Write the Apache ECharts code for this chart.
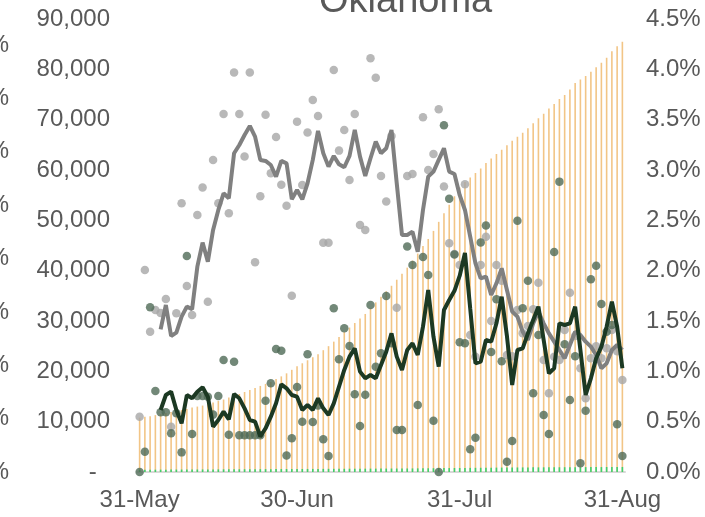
<!DOCTYPE html>
<html>
<head>
<meta charset="utf-8">
<script src="https://cdn.jsdelivr.net/npm/echarts@6/dist/echarts.min.js"></script>
<style>
html, body { margin: 0; padding: 0; background: #fff; }
#chart { width: 705px; height: 517px; }
</style>
</head>
<body>
<div id="chart"></div>
<script>
// 31-May .. 31-Aug, one entry per day
const monthNames = ['Jan','Feb','Mar','Apr','May','Jun','Jul','Aug','Sep','Oct','Nov','Dec'];
const days = [];
for (let d = new Date(2020, 4, 31); d <= new Date(2020, 7, 31); d.setDate(d.getDate() + 1)) {
  days.push(d.getDate() + '-' + monthNames[d.getMonth()]);
}
const tickLabels = ['31-May', '30-Jun', '31-Jul', '31-Aug'];

// cumulative (orange bars)
const cumulative = [
  10800, 11000, 11100, 11300, 11500, 11700, 11900, 12100, 12300, 12500,
  12800, 13000, 13200, 13500, 13800, 14100, 14400, 14800, 15100, 15500,
  15900, 16300, 16700, 17100, 17500, 17900, 18500, 19000, 19600, 20300,
  21000, 21600, 22200, 22800, 23400, 24200, 25000, 25900, 26800, 27800,
  28700, 29600, 30500, 31400, 32500, 33700, 34800, 35900, 37000, 38200,
  39400, 40600, 42000, 43400, 44900, 46300, 47900, 49700, 51400, 53100,
  54800, 56500, 57600, 58500, 59400, 60300, 61400, 62300, 63200, 64000,
  64900, 65800, 66600, 67400, 68300, 69300, 70300, 71200, 72200, 73100,
  74100, 74900, 76000, 77300, 78000, 78700, 79500, 80400, 81300, 82300,
  83600, 84600, 85500
];

// small green bars at the base
const baseBars = [
  450, 450, 460, 460, 470, 470, 480, 480, 490, 490,
  500, 500, 510, 510, 520, 520, 530, 530, 540, 540,
  550, 550, 560, 560, 570, 570, 580, 580, 590, 590,
  600, 600, 610, 610, 620, 620, 630, 630, 640, 640,
  650, 650, 660, 660, 670, 670, 680, 680, 690, 690,
  700, 700, 710, 720, 730, 740, 750, 760, 770, 780,
  790, 800, 810, 820, 830, 840, 850, 860, 870, 880,
  890, 900, 900, 910, 910, 920, 920, 930, 930, 940,
  940, 950, 950, 960, 960, 970, 970, 980, 980, 990,
  990, 1000, 1000
];

// grey daily dots
const greyDaily = [
  11000, 40140, 27880, 32190, 31590, 34370, 9000, 31530, 53380, 36960,
  31200, 51070, 56500, 33840, 62000, 53380, 71130, 51400, 79350, 71130,
  62660, 79350, 41660, 54770, 71000, 59350, 66560, 57090, 52920, 35040,
  69610, 57030, 67430, 73920, 70740, 45570, 45570, 79880, 63850, 67960,
  58020, 71130, 49080, 48090, 82200, 78350, 58820, 53720, 66760, 32650,
  null, 58820, 59210, null, 70470, 60010, 63190, 72060, 56700, 45440,
  43320, 41130, 57160, 27220, 22920, 41130, 46760, 30000, 41130, 38000,
  23250, 23000, 32190, 27550, 29010, 32320, 37620, 22250, 15630, 22920,
  22250, 28220, 35630, 27000, 20600, 14640, 22580, 25000, 22580, 24570,
  28220, 24000, 18280
];

// green daily dots
const greenDaily = [
  0, 4040, 32720, 16090, 11860, 11860, 7700, 11660, 3900, 42920,
  7550, 15100, 15100, 14960, 11400, 15100, 22250, 7400, 21920, 7290,
  7290, 7290, 7290, 7290, 14140, 17620, 24440, 24110, 3300, 6690,
  16900, 10000, 23400, 9930, 13200, 6490, 3180, 32520, 22390, 28550,
  25040, 15450, 9140, 15370, 33180, 20930, 23580, 34970, 25570, 8350,
  8350, 44800, 41130, 13310, 42700, 39140, 10200, 0, 68900, 54300,
  43200, 25800, 25560, 4500, 6800, 45600, 48950, 23850, 34310, 22000,
  2050, 6160, 49900, 32520, 38020, 15630, 27220, 11330, 7550, 43700,
  57690, 25370, 14310, 23000, 1720, 12190, 38290, 41000, 33380, 27880,
  29210, 9470, 3180
];

// grey rolling line
const greyAvg = [
  null, null, null, null, 28350, 33180, 27020, 27680, 30860, 32850,
  32320, 40800, 45570, 41800, 48090, 52060, 55370, 54380, 63320, 64970,
  66960, 68750, 66630, 62000, 61800, 61000, 58680, 61800, 61330, 54180,
  56030, 54180, 57360, 62000, 67760, 63320, 60670, 62790, 61130, 60540,
  62790, 67960, 62660, 58820, 62330, 65640, 63320, 64310, 67960, 57360,
  47090, 47090, 47750, 43780, 52060, 58680, 59670, 62000, 64310, 59670,
  59210, 55000, 52060, 46760, 41460, 38480, 38810, 35170, 37490, 40470,
  36160, 31860, 30870, 27880, 26230, 29540, 31860, 29540, 27550, 25900,
  24240, 22580, 25230, 27880, 27220, 25900, 24900, 23250, 20600, 21590,
  24240, 25230, 24240
];

// dark green rolling line
const greenAvg = [
  null, null, null, null, 12320, 15300, 15960, 12320, 9670, 15300,
  14640, 15960, 16820, 14970, 9010, 10330, 11990, 10460, 15500, 14640,
  12650, 10330, 10000, 7020, 8680, 10990, 13650, 17420, 16630, 15300,
  14970, 12320, 13310, 12320, 14640, 12650, 11330, 13640, 16960, 20270,
  22920, 24570, 19940, 18610, 19270, 18610, 21260, 23910, 27550, 22920,
  20270, 24240, 25560, 23250, 28880, 36160, 26890, 20930, 32190, 34180,
  36000, 39000, 43500, 32500, 21590, 21920, 26230, 25890, 29540, 34840,
  27000, 17290, 24240, 24570, 27550, 30200, 32850, 26230, 19600, 20600,
  29540, 29210, 29540, 32850, 24240, 15300, 18610, 22580, 24900, 28880,
  33840, 28880, 20600
];

const FONT = "'Liberation Sans', Arial, sans-serif";
const TXT = '#595959';

const chart = echarts.init(document.getElementById('chart'));
chart.setOption({
  animation: false,
  backgroundColor: '#fff',
  title: {
    text: 'Oklahoma',
    left: 314,
    top: -22,
    textStyle: { fontFamily: FONT, fontSize: 38, fontWeight: 'normal', color: TXT }
  },
  grid: [
    { left: 137, top: 19, width: 488, bottom: 45 },
    { left: 16, top: 45, width: 1, bottom: 45 }
  ],
  xAxis: [
    {
      type: 'category',
      data: days,
      boundaryGap: true,
      axisLine: { lineStyle: { color: '#d9d9d9', width: 2 } },
      axisTick: {
        length: 7,
        lineStyle: { color: '#d9d9d9', width: 2 },
        interval: (i, v) => tickLabels.indexOf(v) >= 0
      },
      axisLabel: {
        interval: (i, v) => tickLabels.indexOf(v) >= 0,
        margin: 16,
        fontFamily: FONT, fontSize: 24, color: TXT
      }
    },
    { gridIndex: 1, type: 'value', show: false }
  ],
  yAxis: [
    {
      type: 'value', min: 0, max: 90000, interval: 10000,
      splitLine: { show: false },
      axisLine: { show: false }, axisTick: { show: false },
      axisLabel: {
        margin: 27,
        fontFamily: FONT, fontSize: 24, color: TXT,
        formatter: v => v === 0 ? '-  ' : v.toLocaleString('en-US')
      }
    },
    {
      type: 'value', min: 0, max: 4.5, interval: 0.5, position: 'right',
      splitLine: { show: false },
      axisLine: { show: false }, axisTick: { show: false },
      axisLabel: {
        margin: 21,
        fontFamily: FONT, fontSize: 24, color: TXT,
        formatter: v => v.toFixed(1) + '%'
      }
    },
    {
      gridIndex: 1, type: 'value', min: 0, max: 8, interval: 1,
      splitLine: { show: false },
      axisLine: { show: false }, axisTick: { show: false },
      axisLabel: {
        margin: 8,
        fontFamily: FONT, fontSize: 24, color: TXT,
        formatter: v => v + '%'
      }
    }
  ],
  series: [
    {
      name: 'cumulative', type: 'bar', data: cumulative,
      barWidth: 1.6, barGap: '-100%',
      itemStyle: { color: '#f2c586' }, z: 1
    },
    {
      name: 'base', type: 'bar', data: baseBars,
      barWidth: 1.6, barGap: '-100%',
      itemStyle: { color: '#3fcf6f' }, z: 1
    },
    {
      name: 'grey daily', type: 'scatter', data: greyDaily,
      symbolSize: 8.5, itemStyle: { color: '#a6a6a6' }, z: 2
    },
    {
      name: 'green daily', type: 'scatter', data: greenDaily,
      symbolSize: 8.5, itemStyle: { color: '#4f6a56' }, z: 3
    },
    {
      name: 'grey avg', type: 'line', data: greyAvg,
      showSymbol: false, lineStyle: { color: '#808080', width: 4 },
      itemStyle: { color: '#808080' }, z: 4
    },
    {
      name: 'green avg', type: 'line', data: greenAvg,
      showSymbol: false, lineStyle: { color: '#1c3923', width: 4 },
      itemStyle: { color: '#1c3923' }, z: 5
    }
  ]
});
</script>
</body>
</html>
